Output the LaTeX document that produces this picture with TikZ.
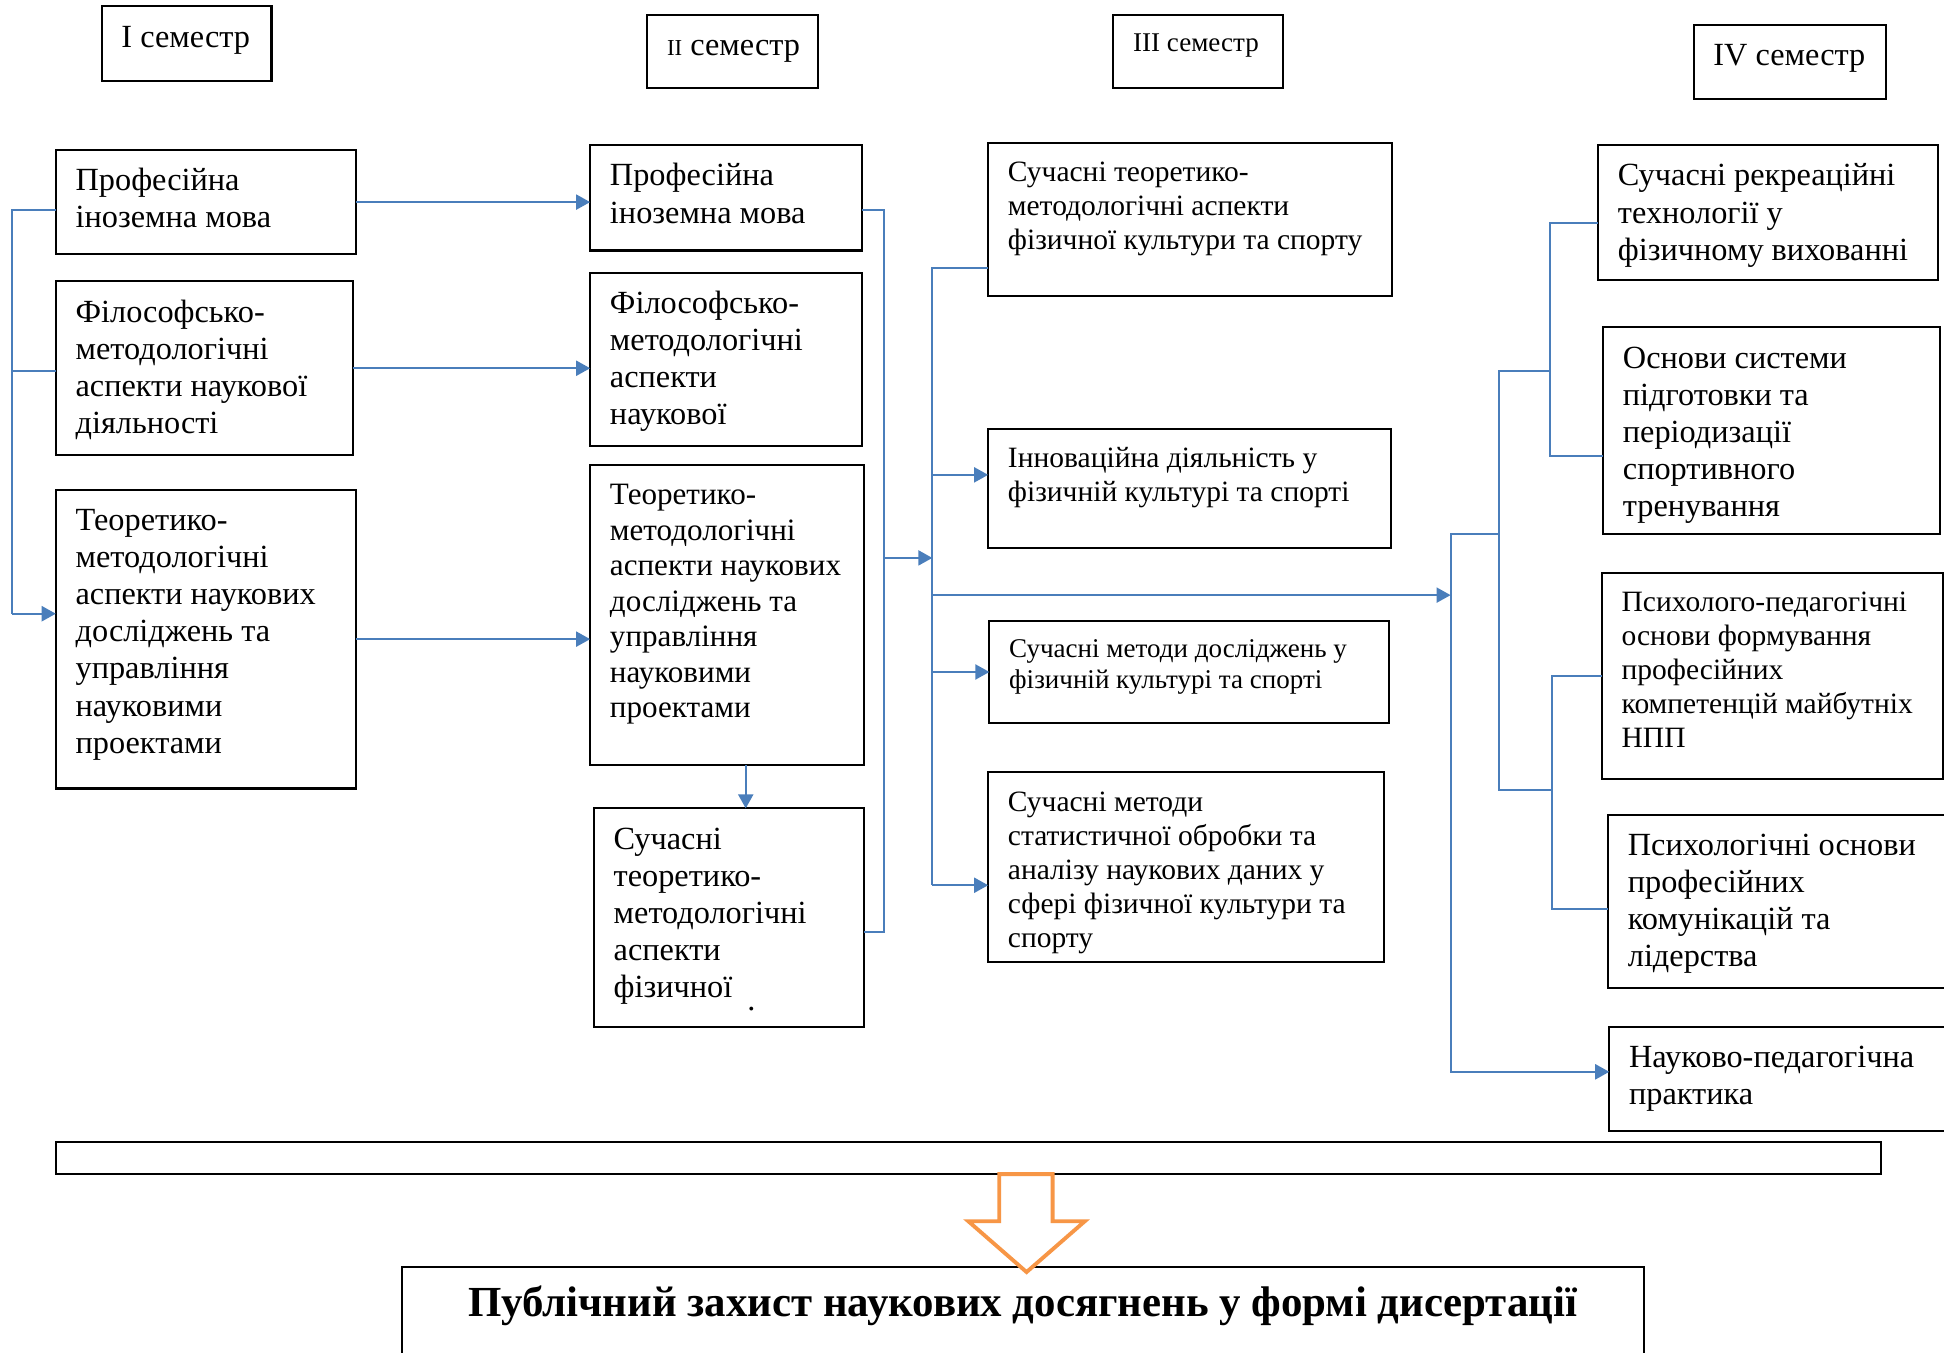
\documentclass[tikz,border=0pt]{standalone}
\usepackage{fontspec}
\setmainfont{Liberation Serif}
\usetikzlibrary{arrows.meta, positioning}

\definecolor{linkblue}{RGB}{74,126,187}
\definecolor{blockorange}{RGB}{247,150,70}

\newlength\px
\setlength\px{0.012398cm}
\newcommand{\bigtext}{\fontsize{9.2}{10.56}\selectfont}
\newcommand{\denstext}{\fontsize{8.85}{10.12}\selectfont}
\newcommand{\midtext}{\fontsize{8.4}{9.7}\selectfont}
\newcommand{\smalltext}{\fontsize{7.7}{8.8}\selectfont}
% box content: width, height (in px), text
\newcommand{\cell}[3]{\parbox[t][#2\px][t]{#1\px}{\leftskip=16\px\relax\vspace*{12\px}\strut#3}}

\tikzset{
  course/.style={draw, line width=0.6pt, anchor=north west, inner sep=0pt, outer sep=0pt},
  link/.style={linkblue, line width=0.55pt},
  arr/.style={link, -{Triangle[length=4pt, width=4.3pt]}},
}

\begin{document}
\begin{tikzpicture}[x=\px, y=-\px]
  \useasboundingbox (0,0) rectangle (1568,1091);

  % semesters
  \node[course, font=\bigtext] (sem1) at (82,5) {\cell{137}{60}{I семестр}};
  \node[course, font=\bigtext] (sem2) at (522,12) {\cell{138}{59}{{\fontsize{6.5}{7}\selectfont II} семестр}};
  \node[course, font=\smalltext] (sem3) at (898,12) {\cell{137}{59}{III семестр}};
  \node[course, font=\bigtext] (sem4) at (1366,20) {\cell{155}{60}{IV семестр}};

  % first semester
  \node[course, font=\bigtext] (a1) at (45,121) {\cell{242}{84}{Професійна\\іноземна мова}};
  \node[course, font=\bigtext] (a2) at (45,227) {\cell{240}{140}{Філософсько-\\методологічні\\аспекти наукової\\діяльності}};
  \node[course, font=\bigtext] (a3) at (45,395) {\cell{242}{241}{Теоретико-\\методологічні\\аспекти наукових\\досліджень та\\управління\\науковими\\проектами}};

  % second semester
  \node[course, font=\bigtext] (b1) at (476,117) {\cell{219}{85}{Професійна\\іноземна мова}};
  \node[course, font=\bigtext] (b2) at (476,220) {\cell{219}{140}{Філософсько-\\методологічні\\аспекти\\наукової}};
  \node[course, font=\denstext] (b3) at (476,375) {\cell{221}{242}{Теоретико-\\методологічні\\аспекти наукових\\досліджень та\\управління\\науковими\\проектами}};
  \node[course, font=\bigtext] (b4) at (479,652) {\cell{218}{176}{Сучасні\\теоретико-\\методологічні\\аспекти\\фізичної}};
  \node[font=\bigtext, inner sep=0pt] (b4dot) at (606,814) {.};

  % third semester
  \node[course, font=\midtext] (c1) at (797,115) {\cell{326}{124}{Сучасні теоретико-\\методологічні аспекти\\фізичної культури та спорту}};
  \node[course, font=\midtext] (c2) at (797,346) {\cell{325}{96}{Інноваційна діяльність у\\фізичній культурі та спорті}};
  \node[course, font=\smalltext] (c3) at (798,501) {\cell{322}{82}{Сучасні методи досліджень у\\фізичній культурі та спорті}};
  \node[course, font=\midtext] (c4) at (797,623) {\cell{319}{153}{Сучасні методи\\статистичної обробки та\\аналізу наукових даних у\\сфері фізичної культури та\\спорту}};

  % fourth semester
  \node[course, font=\bigtext] (d1) at (1289,117) {\cell{274}{109}{Сучасні рекреаційні\\технології у\\фізичному вихованні}};
  \node[course, font=\bigtext] (d2) at (1293,264) {\cell{272}{167}{Основи системи\\підготовки та\\періодизації\\спортивного\\тренування}};
  \node[course, font=\midtext] (d3) at (1292,462) {\cell{275}{166}{Психолого-педагогічні\\основи формування\\професійних\\компетенцій майбутніх\\НПП}};
  \node[course, font=\bigtext] (d4) at (1297,657) {\cell{280}{140}{Психологічні основи\\професійних\\комунікацій та\\лідерства}};
  \node[course, font=\bigtext] (d5) at (1298,828) {\cell{280}{84}{Науково-педагогічна\\практика}};

  % result
  \node[course, minimum width=1472\px, minimum height=26\px] (bar) at (45,921) {};
  \node[course, font=\bfseries\fontsize{12.2}{14}\selectfont] (defence) at (324,1022)
    {\parbox[t][80\px][t]{1002\px}{\centering\vspace*{12\px}\strut Публічний захист наукових досягнень у формі дисертації}};

  % first semester links
  \coordinate (busA1) at (10,169);
  \coordinate (busA2) at (10,299);
  \coordinate (busA3) at (10,495);
  \draw[link] (a1.west |- busA1) -- (busA1) -- (busA3);
  \draw[link] (a2.west |- busA2) -- (busA2);
  \draw[arr] (busA3) -- (a3.west |- busA3);
  \draw[arr] (a1.east) -- (b1.west |- a1.east);
  \draw[arr] (a2.east) -- (b2.west |- a2.east);
  \draw[arr] (a3.east) -- (b3.west |- a3.east);

  % second semester links
  \coordinate (b3out) at ([xshift=15\px]b3.south);
  \draw[arr] (b3out) -- (b3out |- b4.north);
  \coordinate (busB) at (713,450);
  \coordinate (busC) at (752,450);
  \draw[link] ([yshift=-10\px]b1.east) -| (busB) |- ([yshift=-12\px]b4.east);
  \draw[arr] (busB) -- (busC);

  % third semester links
  \coordinate (inC1) at ([yshift=-39\px]c1.west);
  \coordinate (inC2) at ([yshift=11\px]c2.west);
  \coordinate (inC4) at ([yshift=-14.5\px]c4.west);
  \draw[link] (inC1) -- (inC1 -| busC) -- (inC4 -| busC);
  \draw[arr] (inC2 -| busC) -- (inC2);
  \draw[arr] (c3.west -| busC) -- (c3.west);
  \draw[arr] (inC4 -| busC) -- (inC4);
  \coordinate (busD) at (1170,480);
  \draw[arr] (busC |- busD) -- (busD);

  % fourth semester links
  \coordinate (inD1) at ([yshift=-8.5\px]d1.west);
  \coordinate (inD2) at ([yshift=-20.5\px]d2.west);
  \coordinate (inD4) at ([yshift=-6\px]d4.west);
  \coordinate (inD5) at ([yshift=5.5\px]d5.west);
  \coordinate (busE) at (1250,299);
  \coordinate (busM) at (1209,431);
  \coordinate (busF) at (1252,637);
  \draw[link] (inD1) -| (busE) |- (inD2);
  \draw[link] (busE) -| (busM) |- (busF);
  \draw[link] (d3.west) -| (busF) |- (inD4);
  \draw[link] (busM) -| (busD);
  \draw[arr] (busD) |- (inD5);

  % block arrow to the defence
  \draw[blockorange, line width=1.1pt, fill=white, line join=miter]
    (806,947) -- (849,947) -- (849,985) -- (875,985) -- (828,1026)
    -- (781,985) -- (806,985) -- cycle;
\end{tikzpicture}
\end{document}
